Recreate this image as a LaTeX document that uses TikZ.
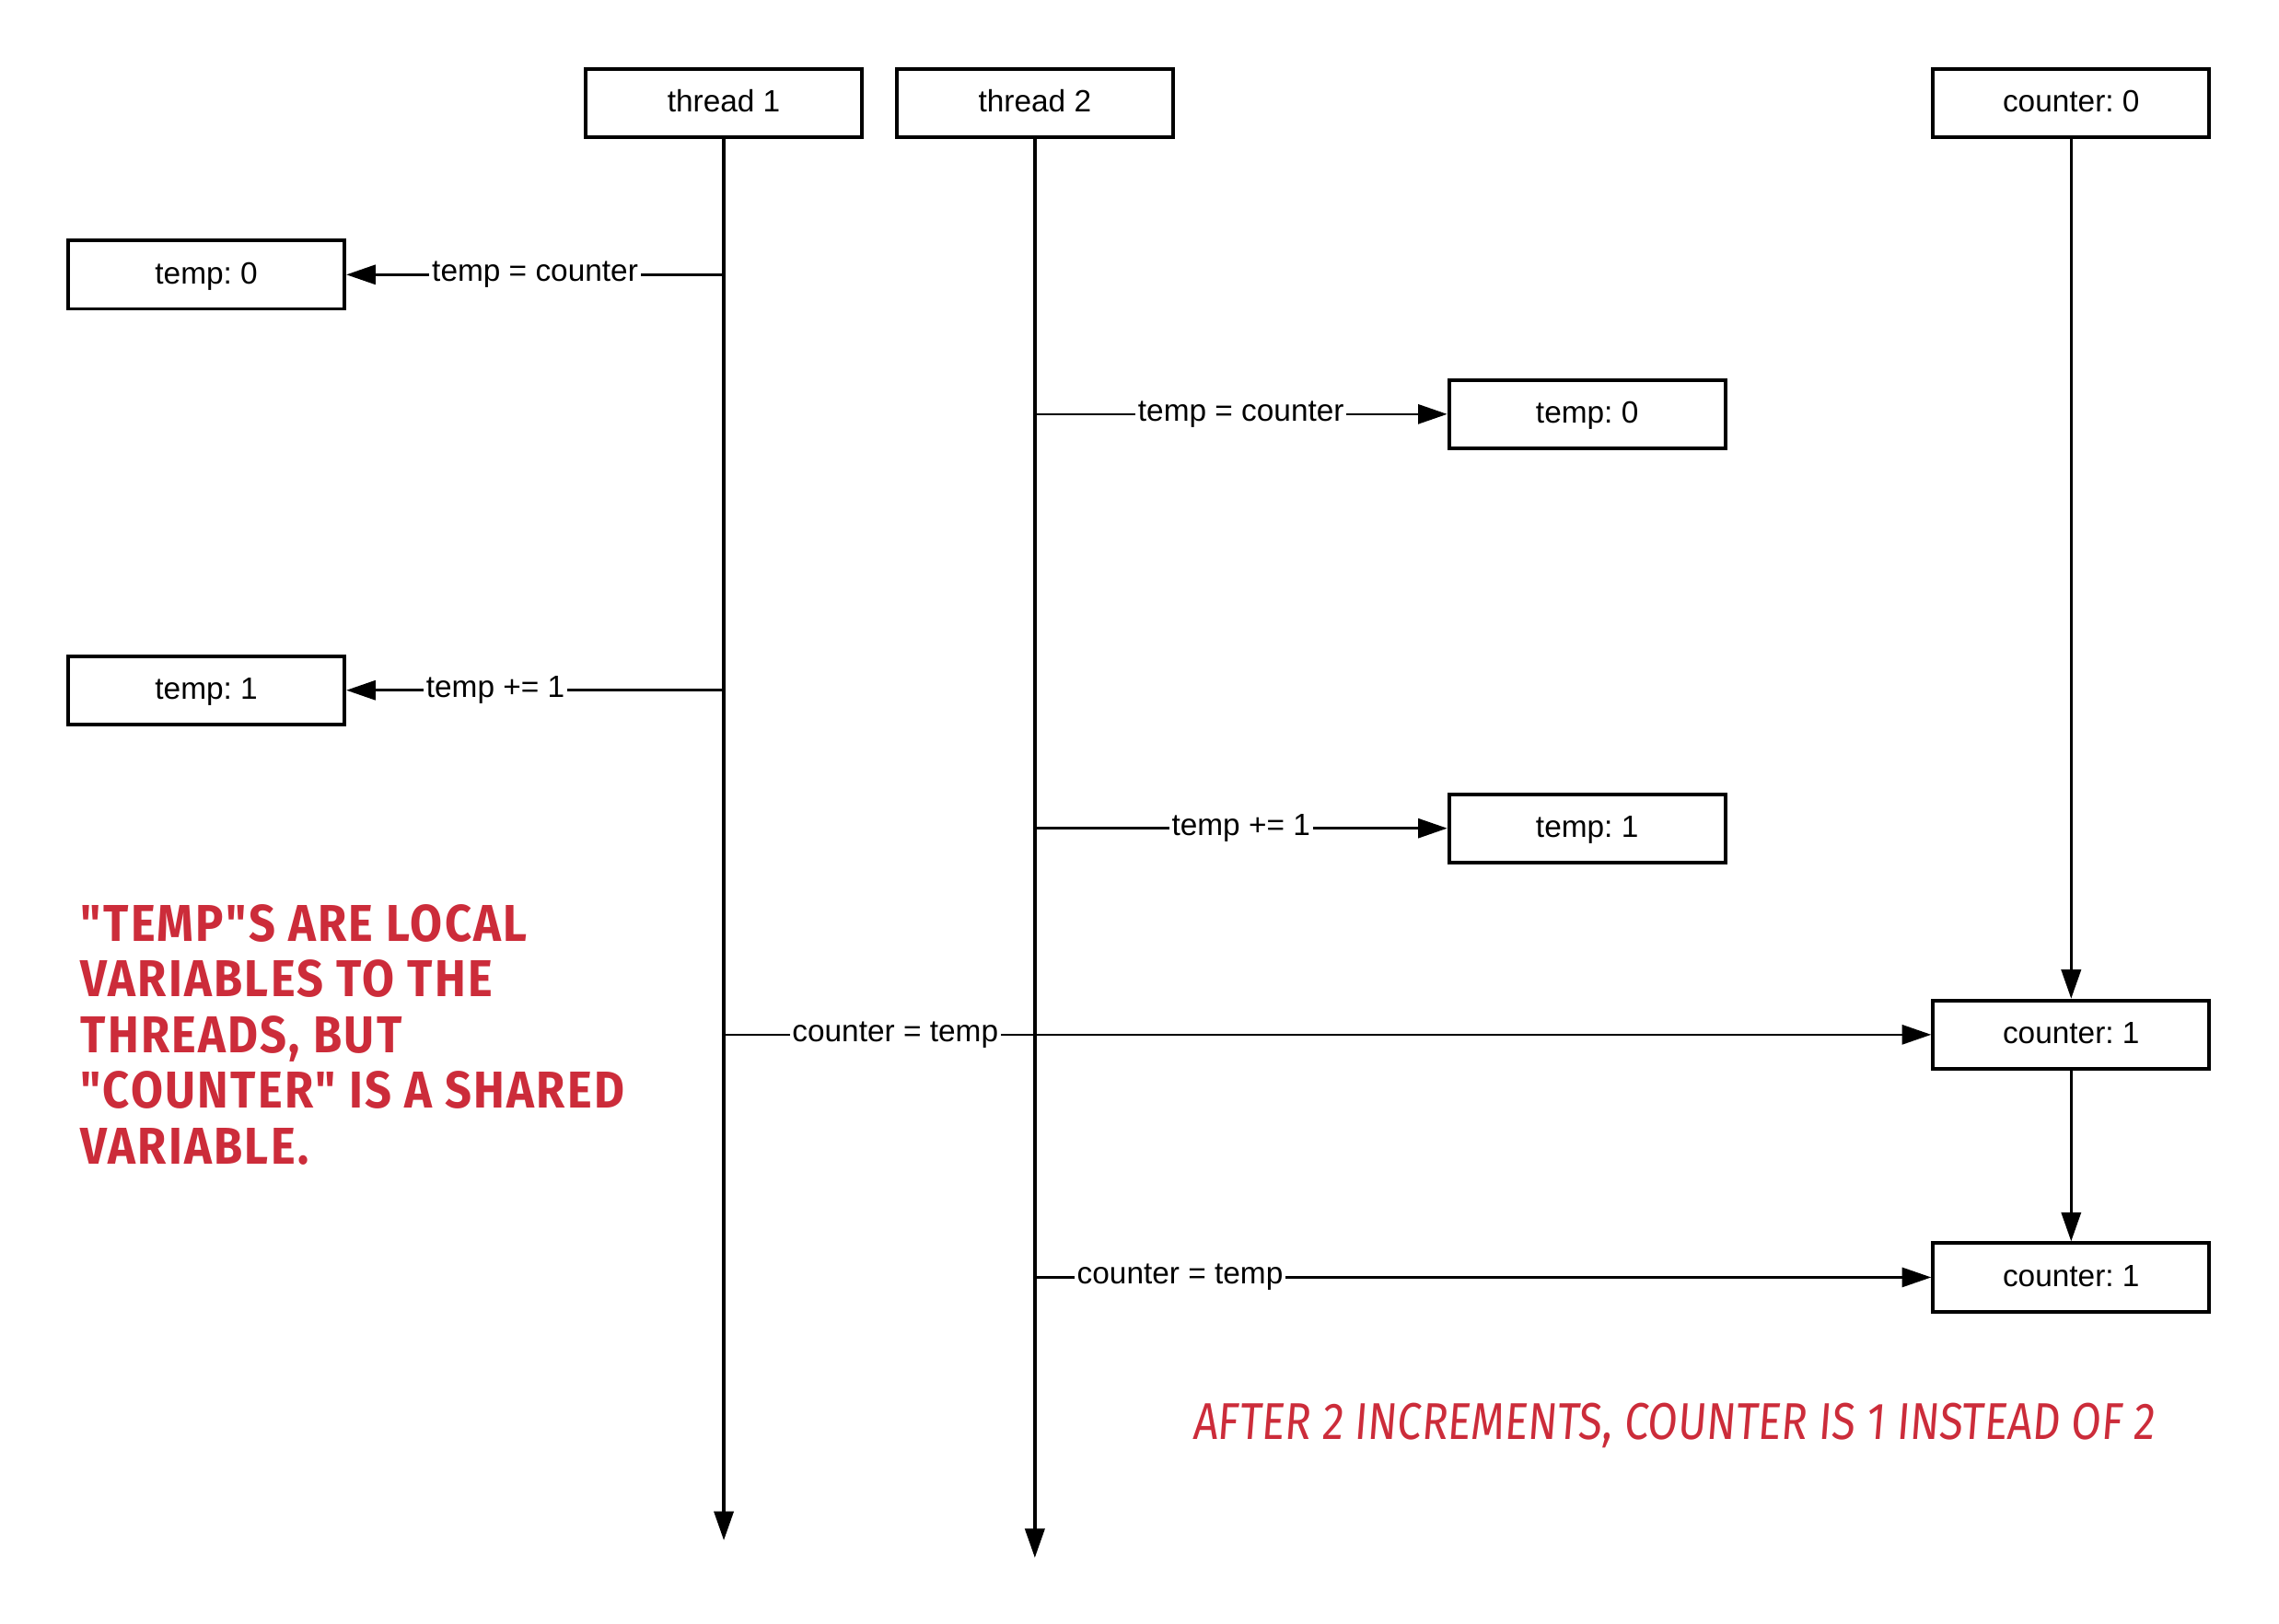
\documentclass[tikz,border=0pt]{standalone}
\usepackage{fontspec}
\setmainfont{Liberation Sans}
\newfontfamily\handfont[FakeStretch=0.9,LetterSpace=4]{Fira Sans}
\newfontfamily\handfontb[FakeStretch=0.835,FakeSlant=0.08]{Fira Sans}
\usetikzlibrary{arrows.meta}
\definecolor{note}{RGB}{204,44,58}
\frenchspacing
\tikzset{
  box/.style={draw, line width=1.1pt, minimum width=3.0cm, minimum height=0.742cm, inner sep=0pt, text height=0.72em, text depth=0.16em, font=\fontsize{9.5}{11}\selectfont},
  life/.style={line width=1pt, -{Triangle[length=9pt,width=6pt]}},
  msg/.style={line width=0.75pt, -{Triangle[length=9pt,width=6pt]}},
  lbl/.style={fill=white, inner sep=0.8pt, font=\fontsize{9.5}{11}\selectfont},
  notetext/.style={text=note, font=\handfont\bfseries\fontsize{16}{17.2}\selectfont, inner sep=0pt, align=left},
  notetextb/.style={text=note, font=\handfontb\fontsize{16}{17.2}\selectfont, inner sep=0pt}
}
\begin{document}
\begin{tikzpicture}[x=0.015785cm,y=-0.015785cm]
\useasboundingbox (0,0) rectangle (1568,1117);
\node[box] (t1) at (498,71) {thread 1};
\node[box] (t2) at (712,71) {thread 2};
\node[box] (c0) at (1425,71) {counter: 0};
\node[box] (tA) at (142,189) {temp: 0};
\node[box] (tB) at (1092,285) {temp: 0};
\node[box] (tC) at (142,475) {temp: 1};
\node[box] (tD) at (1092,570) {temp: 1};
\node[box] (c1) at (1425,712) {counter: 1};
\node[box] (c2) at (1425,879) {counter: 1};
\coordinate (e1) at (498,1060);
\coordinate (e2) at (712,1072);
\draw[life] (t1.south) -- (e1);
\draw[life] (t2.south) -- (e2);
\draw[life] (c0.south) -- (c1.north);
\draw[life] (c1.south) -- (c2.north);
\draw[msg] (t1.south |- tA) -- node[lbl, pos=0.5] {temp = counter} (tA.east);
\draw[msg] (t2.south |- tB) -- node[lbl, pos=0.5] {temp = counter} (tB.west);
\draw[msg] (t1.south |- tC) -- node[lbl, pos=0.605] {temp += 1} (tC.east);
\draw[msg] (t2.south |- tD) -- node[lbl, pos=0.5] {temp += 1} (tD.west);
\draw[msg] (t1.south |- c1) -- node[lbl, pos=0.142] {counter = temp} (c1.west);
\draw[msg] (t2.south |- c2) -- node[lbl, pos=0.162] {counter = temp} (c2.west);
\node[notetext, anchor=north west] (n1) at (55,622) {"TEMP"S ARE LOCAL\\VARIABLES TO THE\\THREADS, BUT\\"COUNTER" IS A SHARED\\VARIABLE.};
\node[notetextb, anchor=west] (n2) at (820,981) {AFTER 2 INCREMENTS, COUNTER IS 1 INSTEAD OF 2};
\end{tikzpicture}
\end{document}
